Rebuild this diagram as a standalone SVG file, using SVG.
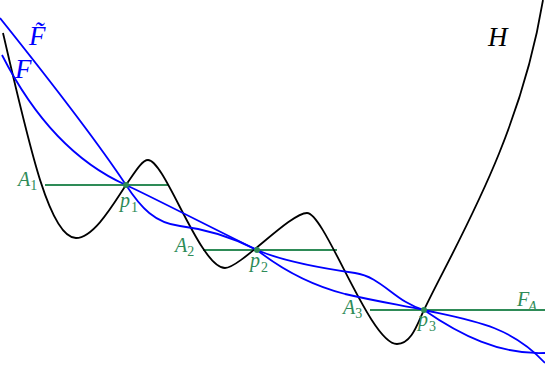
<svg xmlns="http://www.w3.org/2000/svg" width="545" height="366" viewBox="0 0 545 366">
<style>
.h{fill:none;stroke:#000;stroke-width:1.8}
.b{fill:none;stroke:#0000ff;stroke-width:1.8}
.g{stroke:#2e8b57;stroke-width:2;fill:none}
.dot{fill:#2e8b57}
.gt{fill:#2e8b57;font-family:"Liberation Serif",serif;font-style:italic;font-size:20px}
.gs{font-size:14px;font-style:normal}
.bt{fill:#0000ff;font-family:"Liberation Serif",serif;font-style:italic;font-size:27px}
.kt{fill:#000;font-family:"Liberation Serif",serif;font-style:italic;font-size:27px}
</style>
<rect width="545" height="366" fill="#fff"/>
<g id="connectors">
<path id="levelA1" class="g" d="M45,185 H168"/>
<path id="levelA2" class="g" d="M203,250 H337"/>
<path id="levelA3" class="g" d="M370,310 H545"/>
<path id="curveH" class="h" d="M3,33 C30,150 50,238 76,238 C94,238 114,203 126,185 C135,172 142,160 148,160 C165,160 200,268 225,268 C240,268 290,213 307,213 C325,213 370,344 397,344 C412,344 418,322 424,310 C455,245 520,140 543,0"/>
<path id="curveFt" class="b" d="M0,18 C40,68 95,138 126,185 C141,208 155,223 180,226 C205,229 230,236 257,250 C280,268 310,285 345,294 C375,301 400,305 424,310 C460,335 500,355 545,353"/>
<path id="curveF" class="b" d="M2,55 C30,110 70,160 126,185 C150,196 220,232 257,250 C280,260 320,268 355,273 C382,277 395,302 424,310 C470,320 510,325 545,363"/>
</g>
<g id="p1"><circle class="dot" cx="126" cy="185" r="3"/><text class="gt" x="120" y="207">p<tspan class="gs" dx="1" dy="5">1</tspan></text></g>
<g id="p2"><circle class="dot" cx="257" cy="250" r="3"/><text class="gt" x="250" y="267">p<tspan class="gs" dx="1" dy="5">2</tspan></text></g>
<g id="p3"><circle class="dot" cx="424" cy="310" r="3"/><text class="gt" x="418" y="326">p<tspan class="gs" dx="1" dy="5">3</tspan></text></g>
<g id="A1"><text class="gt" x="18" y="186">A<tspan class="gs" dy="4">1</tspan></text></g>
<g id="A2"><text class="gt" x="175" y="252">A<tspan class="gs" dy="4">2</tspan></text></g>
<g id="A3"><text class="gt" x="343" y="314">A<tspan class="gs" dy="4">3</tspan></text></g>
<g id="FA"><text class="gt" x="517" y="306">F<tspan class="gs" style="font-style:italic" dx="-1" dy="5">A</tspan></text></g>
<g id="Ftilde"><text class="bt" x="29" y="45">F̃</text></g>
<g id="F"><text class="bt" x="15" y="78">F</text></g>
<g id="H"><text class="kt" x="488" y="46">H</text></g>
</svg>
